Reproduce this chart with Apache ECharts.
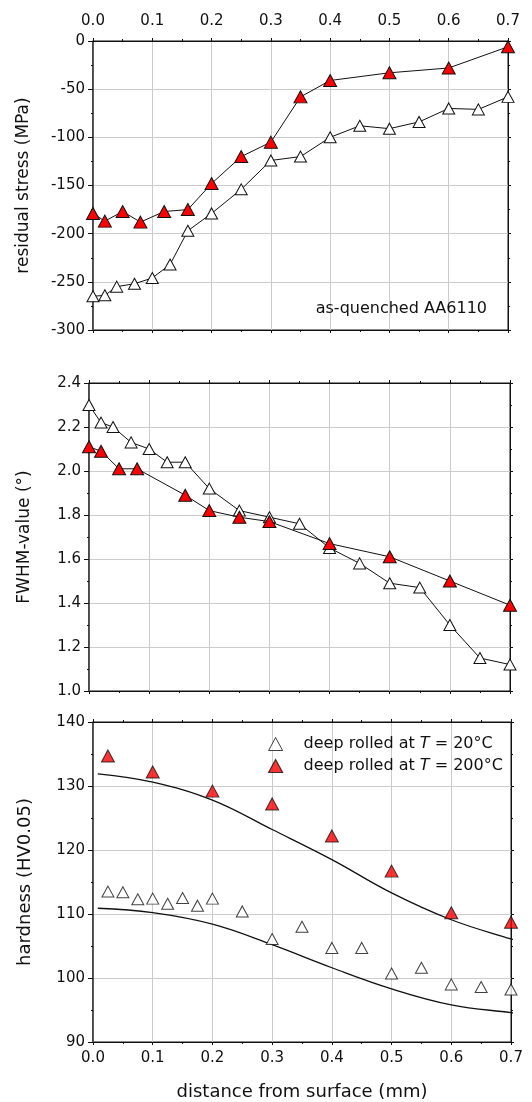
<!DOCTYPE html>
<html>
<head>
<meta charset="utf-8">
<script src="https://cdn.jsdelivr.net/npm/echarts@6/dist/echarts.min.js"></script>
<style>html,body{margin:0;padding:0;background:#fff}#c{width:532px;height:1102px}</style>
</head>
<body>
<div id="c"></div>
<script>
// x ticks
const xTicks = [0.0, 0.1, 0.2, 0.3, 0.4, 0.5, 0.6, 0.7];

// residual stress (MPa)
const rsX20  = [0.0, 0.02, 0.04, 0.07, 0.1, 0.13, 0.16, 0.2, 0.25, 0.3, 0.35, 0.4, 0.45, 0.5, 0.55, 0.6, 0.65, 0.7];
const rsY20  = [-265, -264, -255, -252, -246, -232, -197, -179, -154, -124, -120, -100, -88, -91, -84, -70, -71, -58];
const rsX200 = [0.0, 0.02, 0.05, 0.08, 0.12, 0.16, 0.2, 0.25, 0.3, 0.35, 0.4, 0.5, 0.6, 0.7];
const rsY200 = [-179, -187, -177, -188, -177, -175, -148, -120, -105, -58, -41, -33, -28, -6];

// FWHM-value (deg)
const fwX20  = [0.0, 0.02, 0.04, 0.07, 0.1, 0.13, 0.16, 0.2, 0.25, 0.3, 0.35, 0.4, 0.45, 0.5, 0.55, 0.6, 0.65, 0.7];
const fwY20  = [2.30, 2.22, 2.20, 2.13, 2.10, 2.04, 2.04, 1.92, 1.82, 1.79, 1.76, 1.65, 1.58, 1.49, 1.47, 1.30, 1.15, 1.12];
const fwX200 = [0.0, 0.02, 0.05, 0.08, 0.16, 0.2, 0.25, 0.3, 0.4, 0.5, 0.6, 0.7];
const fwY200 = [2.11, 2.09, 2.01, 2.01, 1.89, 1.82, 1.79, 1.77, 1.67, 1.61, 1.50, 1.39];

// hardness (HV0.05)
const hvX20  = [0.025, 0.05, 0.075, 0.1, 0.125, 0.15, 0.175, 0.2, 0.25, 0.3, 0.35, 0.4, 0.45, 0.5, 0.55, 0.6, 0.65, 0.7];
const hvY20  = [113.5, 113.4, 112.3, 112.4, 111.6, 112.5, 111.3, 112.4, 110.4, 106.1, 108.0, 104.7, 104.7, 100.7, 101.6, 99.0, 98.6, 98.2];
const hvX200 = [0.025, 0.1, 0.2, 0.3, 0.4, 0.5, 0.6, 0.7];
const hvY200 = [134.7, 132.2, 129.2, 127.2, 122.2, 116.7, 110.2, 108.7];
const fitX     = [0.008, 0.1, 0.2, 0.3, 0.4, 0.5, 0.6, 0.7, 0.72];
const fitUpper = [131.9, 130.6, 127.8, 123.2, 118.5, 113.3, 109.1, 106.1, 105.6];
const fitLower = [110.9, 110.2, 108.4, 105.2, 101.6, 98.3, 95.8, 94.6, 94.4];

const labels = {
  T20: 'deep rolled at {i|T} = 20°C',
  T200: 'deep rolled at {i|T} = 200°C'
};

const FONT = 'DejaVu Sans';
const TXT = '#111';
const zip = (xs, ys) => xs.map((x, i) => [x, ys[i]]);

function xAx(grid, pos, showLabel) {
  return {
    type: 'value', gridIndex: grid, position: pos,
    min: xTicks[0], max: xTicks[xTicks.length - 1], interval: 0.1,
    axisLine: { show: true, onZero: false, lineStyle: { color: '#111', width: 1 } },
    axisTick: { show: true, length: 3, inside: false, lineStyle: { color: '#111' } },
    minorTick: { show: true, splitNumber: 2, length: 2, lineStyle: { color: '#111' } },
    axisLabel: { show: showLabel, fontFamily: FONT, fontSize: 15, color: TXT, margin: pos === 'top' ? 12 : 9,
      formatter: v => v.toFixed(1) },
    splitLine: { show: true, lineStyle: { color: '#cccccc', width: 1 } }
  };
}
function yAx(grid, pos, min, max, interval, dec, name, gap, fs) {
  const main = pos === 'left';
  return {
    type: 'value', gridIndex: grid, position: pos, min: min, max: max, interval: interval,
    name: main ? name : '', nameLocation: 'middle', nameGap: gap,
    nameTextStyle: { fontFamily: FONT, fontSize: fs, color: TXT },
    axisLine: { show: true, onZero: false, lineStyle: { color: main ? '#333' : '#111', width: main ? 1.5 : 1 } },
    axisTick: { show: true, length: main ? 5 : 3, lineStyle: { color: '#111' } },
    minorTick: { show: true, splitNumber: 2, length: 2, lineStyle: { color: '#111' } },
    axisLabel: { show: main, fontFamily: FONT, fontSize: 15, color: TXT, margin: 8,
      formatter: v => v.toFixed(dec) },
    splitLine: { show: main, lineStyle: { color: '#cccccc', width: 1 } }
  };
}

const red = '#ff0000';
function lineSeries(name, xi, yi, data, fill) {
  return {
    name: name, type: 'line', xAxisIndex: xi, yAxisIndex: yi, data: data,
    symbol: 'triangle', symbolSize: fill === red ? [13, 12] : [12, 11], showAllSymbol: true, clip: false,
    lineStyle: { color: '#111', width: 1 },
    itemStyle: { color: fill, borderColor: '#111', borderWidth: 1 },
    emphasis: { disabled: true }, z: fill === red ? 3 : 2
  };
}

const xAxes = [
  xAx(0, 'top', true), xAx(0, 'bottom', false),
  xAx(1, 'bottom', false), xAx(1, 'top', false),
  xAx(2, 'bottom', true), xAx(2, 'top', false)
];
[1, 3, 5].forEach(i => { xAxes[i].splitLine.show = false; });
xAxes[4].name = 'distance from surface (mm)';
xAxes[4].nameLocation = 'middle';
xAxes[4].nameGap = 41;
xAxes[4].nameTextStyle = { fontFamily: FONT, fontSize: 18, color: TXT };

const option = {
  animation: false,
  backgroundColor: '#fff',
  grid: [
    { left: 93, top: 41, width: 415, height: 289, show: true, borderColor: '#111', borderWidth: 1 },
    { left: 89, top: 383, width: 421, height: 308, show: true, borderColor: '#111', borderWidth: 1 },
    { left: 93, top: 722, width: 418, height: 320, show: true, borderColor: '#111', borderWidth: 1 }
  ],
  title: {
    text: 'as-quenched AA6110', right: 40, top: 296,
    textStyle: { fontFamily: FONT, fontSize: 16, fontWeight: 'normal', color: TXT }
  },
  xAxis: xAxes,
  yAxis: [
    yAx(0, 'left', -300, 0, 50, 0, 'residual stress (MPa)', 61, 17),
    yAx(0, 'right', -300, 0, 50, 0, '', 0, 17),
    yAx(1, 'left', 1.0, 2.4, 0.2, 1, 'FWHM-value (°)', 56, 17),
    yAx(1, 'right', 1.0, 2.4, 0.2, 1, '', 0, 17),
    yAx(2, 'left', 90, 140, 10, 0, 'hardness (HV0.05)', 59, 18),
    yAx(2, 'right', 90, 140, 10, 0, '', 0, 18)
  ],
  legend: {
    data: [
      { name: 'T20', icon: 'triangle', itemStyle: { color: '#fff', borderColor: '#111', borderWidth: 1 } },
      { name: 'T200', icon: 'triangle', itemStyle: { color: red, borderColor: '#111', borderWidth: 1.2 } }
    ],
    orient: 'vertical', left: 263, top: 731, itemWidth: 14, itemHeight: 13, itemGap: 6,
    selectedMode: false,
    formatter: n => labels[n],
    textStyle: { fontFamily: FONT, fontSize: 16, color: TXT, padding: [0, 0, 0, 16],
      rich: { i: { fontFamily: FONT, fontSize: 16, fontStyle: 'italic', color: TXT } } }
  },
  series: [
    lineSeries('rs20', 0, 0, zip(rsX20, rsY20), '#fff'),
    lineSeries('rs200', 0, 0, zip(rsX200, rsY200), red),
    lineSeries('fw20', 2, 2, zip(fwX20, fwY20), '#fff'),
    lineSeries('fw200', 2, 2, zip(fwX200, fwY200), red),
    {
      name: 'fitU', type: 'line', xAxisIndex: 4, yAxisIndex: 4, data: zip(fitX, fitUpper),
      smooth: 0.4, symbol: 'none', clip: false, lineStyle: { color: '#111', width: 1.3 }, z: 1
    },
    {
      name: 'fitL', type: 'line', xAxisIndex: 4, yAxisIndex: 4, data: zip(fitX, fitLower),
      smooth: 0.4, symbol: 'none', clip: false, lineStyle: { color: '#111', width: 1.3 }, z: 1
    },
    {
      name: 'T20', type: 'scatter', xAxisIndex: 4, yAxisIndex: 4, data: zip(hvX20, hvY20),
      symbol: 'triangle', symbolSize: [12, 11], clip: false,
      itemStyle: { color: '#fff', borderColor: '#111', borderWidth: 1 }, z: 2
    },
    {
      name: 'T200', type: 'scatter', xAxisIndex: 4, yAxisIndex: 4, data: zip(hvX200, hvY200),
      symbol: 'triangle', symbolSize: [13, 12], clip: false,
      itemStyle: { color: red, borderColor: '#111', borderWidth: 1 }, z: 3
    }
  ]
};

const chart = echarts.init(document.getElementById('c'), null, { renderer: 'canvas' });
chart.setOption(option);
</script>
</body>
</html>
